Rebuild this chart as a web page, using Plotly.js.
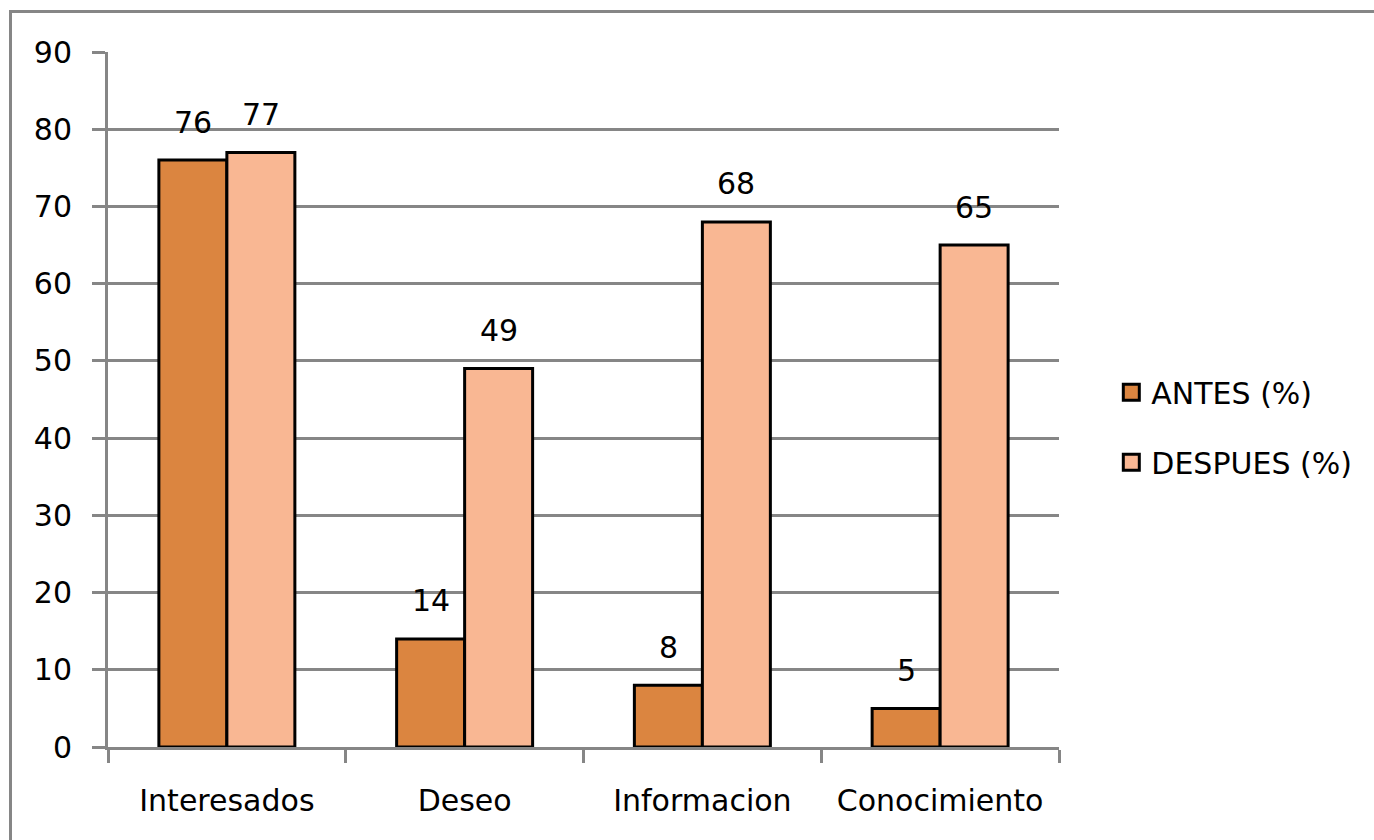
<!DOCTYPE html>
<html>
<head>
<meta charset="utf-8">
<script src="https://cdn.plot.ly/plotly-3.0.1.min.js"></script>
<style>
html,body{margin:0;padding:0;background:#fff;}
#wrap{position:relative;width:1374px;height:840px;overflow:hidden;}
#chart{position:absolute;left:0;top:0;width:1374px;height:840px;}
#frame{position:absolute;left:9px;top:10px;width:1400px;height:900px;border-left:3px solid #868686;border-top:3px solid #868686;pointer-events:none;}
</style>
</head>
<body>
<div id="wrap"><div id="chart"></div><div id="frame"></div></div>
<script>
const categories = ["Interesados", "Deseo", "Informacion", "Conocimiento"];
const antes = [76, 14, 8, 5];
const despues = [77, 49, 68, 65];
const seriesNames = ["ANTES (%)", "DESPUES (%)"];
const yTicks = [0, 10, 20, 30, 40, 50, 60, 70, 80, 90];

const colAntes = "#DB8540";
const colDespues = "#F9B793";
const gridCol = "#868686";
const fnt = {family: "DejaVu Sans, Verdana, sans-serif", size: 30, color: "#000"};
const bargap = 0.428;

const traces = [
  {type: "bar", x: categories, y: antes, name: seriesNames[0], showlegend: false,
   marker: {color: colAntes, line: {color: "#000", width: 3}}, hoverinfo: "none"},
  {type: "bar", x: categories, y: despues, name: seriesNames[1], showlegend: false,
   marker: {color: colDespues, line: {color: "#000", width: 3}}, hoverinfo: "none"},
  {type: "scatter", mode: "markers", x: [null], y: [null], name: seriesNames[0], legendgroup: "a",
   marker: {symbol: "square", size: 16, color: colAntes, line: {color: "#000", width: 3}}},
  {type: "scatter", mode: "markers", x: [null], y: [null], name: seriesNames[1], legendgroup: "b",
   marker: {symbol: "square", size: 16, color: colDespues, line: {color: "#000", width: 3}}}
];

const half = (1 - bargap) / 4;
const annotations = [];
[antes, despues].forEach((vals, s) => {
  vals.forEach((v, i) => {
    annotations.push({
      x: i + (s === 0 ? -half : half), y: v, xref: "x", yref: "y",
      text: String(v), showarrow: false, yanchor: "middle", yshift: 38,
      font: fnt
    });
  });
});

const layout = {
  width: 1374, height: 840,
  margin: {l: 108, r: 315, t: 52, b: 93},
  paper_bgcolor: "#fff", plot_bgcolor: "#fff",
  font: fnt,
  barmode: "group", bargap: bargap, bargroupgap: 0,
  showlegend: true,
  legend: {x: 1.055, xanchor: "left", y: 0.46, yanchor: "middle",
           font: fnt, traceorder: "grouped", tracegroupgap: 28,
           itemwidth: 30, bgcolor: "rgba(0,0,0,0)"},
  xaxis: {type: "category", categoryarray: categories, range: [-0.5, 3.5],
          showline: true, linecolor: gridCol, linewidth: 3,
          ticks: "outside", tickson: "boundaries", ticklen: 13, tickwidth: 3, tickcolor: gridCol,
          showgrid: false, zeroline: false, ticklabelstandoff: 25, tickfont: fnt},
  yaxis: {range: [0, 90], tickvals: yTicks, ticktext: yTicks.map(String),
          showline: true, linecolor: gridCol, linewidth: 3,
          ticks: "outside", ticklen: 13, tickwidth: 3, tickcolor: gridCol,
          showgrid: true, gridcolor: gridCol, gridwidth: 3, zeroline: false,
          ticklabelstandoff: 14, tickfont: fnt},
  annotations: annotations
};

Plotly.newPlot("chart", traces, layout, {displayModeBar: false, staticPlot: true});
</script>
</body>
</html>
